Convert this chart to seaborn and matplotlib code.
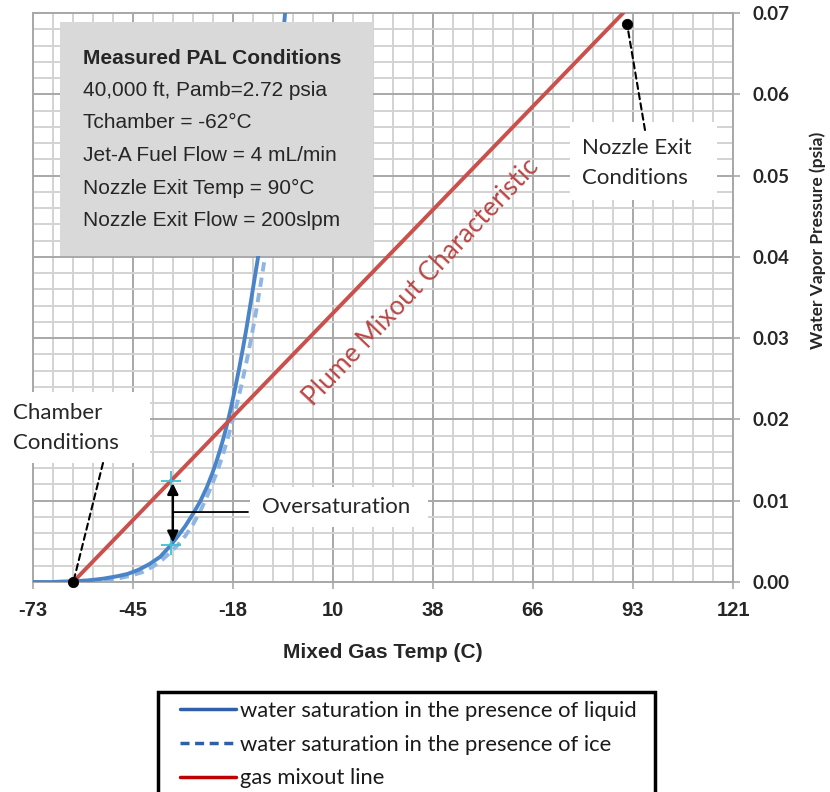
import numpy as np
import pandas as pd
import matplotlib
matplotlib.use("Agg")
import matplotlib.pyplot as plt
import seaborn as sns
from matplotlib.patches import Rectangle
from matplotlib.lines import Line2D
from matplotlib.ticker import FixedLocator, FixedFormatter

# ---------------- data ----------------
# Saturation vapor pressure over liquid water (deg C, psia)
liquid_temp_c = [-73.3, -68.0, -62.2, -58.0, -54.0, -50.0, -47.0, -44.0, -41.0, -38.0,
                 -35.3, -33.0, -31.0, -29.0, -26.9, -25.0, -23.5, -22.4, -21.4, -20.3,
                 -19.2, -18.2, -17.2, -16.1, -15.0, -14.0, -13.0, -11.9, -10.8, -8.7,
                 -6.7, -5.0, -3.3]
liquid_psia = [0.0000, 0.0000, 0.0001, 0.0002, 0.0004, 0.0007, 0.0010, 0.0015, 0.0022, 0.0031,
               0.0044, 0.0057, 0.0069, 0.0083, 0.0099, 0.0117, 0.0134, 0.0148, 0.0162, 0.0179,
               0.0198, 0.0217, 0.0238, 0.0262, 0.0288, 0.0313, 0.0340, 0.0370, 0.0400, 0.0467,
               0.0543, 0.0617, 0.0700]

# Saturation vapor pressure over ice (deg C, psia)
ice_temp_c = [-62.2, -60.0, -56.0, -52.0, -49.0, -46.0, -43.0, -40.0, -37.5, -35.3,
              -33.0, -31.0, -29.0, -27.0, -25.0, -23.5, -22.0, -20.7, -19.4, -18.1,
              -16.8, -15.5, -14.2, -12.9, -11.6, -10.3, -9.0, -7.5, -6.0]
ice_psia = [0.0001, 0.0001, 0.0002, 0.0003, 0.0005, 0.0008, 0.0012, 0.0019, 0.0027, 0.0036,
            0.0046, 0.0057, 0.0070, 0.0086, 0.0105, 0.0121, 0.0138, 0.0155, 0.0174, 0.0195,
            0.0217, 0.0241, 0.0267, 0.0296, 0.0327, 0.0361, 0.0397, 0.0442, 0.0490]

# Plume mixout line: chamber -> nozzle exit
mixout_temp_c = [-62.2, 90.6]
mixout_psia = [0.0000, 0.0700]

chamber_temp_c, chamber_psia = -62.2, 0.0000
nozzle_temp_c, nozzle_psia = 91.7, 0.0686

oversat_temp_c = -35.0

# Axis ticks: round Fahrenheit values shown in Celsius
tick_f = [-100, -50, 0, 50, 100, 150, 200, 250]
tick_labels = ["-73", "-45", "-18", "10", "38", "66", "93", "121"]
y_ticks = [0.00, 0.01, 0.02, 0.03, 0.04, 0.05, 0.06, 0.07]
y_tick_labels = ["0.00", "0.01", "0.02", "0.03", "0.04", "0.05", "0.06", "0.07"]

conditions_title = "Measured PAL Conditions"
conditions_lines = ["40,000 ft, Pamb=2.72 psia", "Tchamber = -62°C",
                    "Jet-A Fuel Flow = 4 mL/min", "Nozzle Exit Temp = 90°C",
                    "Nozzle Exit Flow = 200slpm"]

legend_labels = ["water saturation in the presence of liquid",
                 "water saturation in the presence of ice",
                 "gas mixout line"]

# ---------------- style ----------------
sns.set_style("white")
plt.rcParams["font.family"] = ["Liberation Sans", "DejaVu Sans"]
CAL = ["Lato", "DejaVu Sans"]
ARIAL = ["Liberation Sans", "DejaVu Sans"]

BLUE = "#4a84c8"
ICE_BLUE = "#8fb5e3"
RED = "#c9504b"
CYAN = "#3fc0d8"
GRID_MAJ = "#a8a8a8"
GRID_MIN = "#d3d3d3"

W, H = 830, 792
AX_L, AX_R, AX_T, AX_B = 33, 733, 13, 582

fig = plt.figure(figsize=(W / 100, H / 100), dpi=100)
ax = fig.add_axes([AX_L / W, 1 - AX_B / H, (AX_R - AX_L) / W, (AX_B - AX_T) / H])


def axf(px, py):
    """pixel position -> axes fraction"""
    return ((px - AX_L) / (AX_R - AX_L), (AX_B - py) / (AX_B - AX_T))


def f_to_c(f):
    return (np.asarray(f, dtype=float) - 32.0) * 5.0 / 9.0


tick_c = f_to_c(tick_f)
minor_c = f_to_c(np.arange(tick_f[0], tick_f[-1] + 1, 10))

# ---------------- curves ----------------
liq = pd.DataFrame({"temp": liquid_temp_c, "p": liquid_psia})
ice = pd.DataFrame({"temp": ice_temp_c, "p": ice_psia})
mix = pd.DataFrame({"temp": mixout_temp_c, "p": mixout_psia})

sns.lineplot(data=ice, x="temp", y="p", ax=ax, color=ICE_BLUE, lw=2.8,
             linestyle=(0, (2.4, 1.6)), sort=False, zorder=3)
sns.lineplot(data=liq, x="temp", y="p", ax=ax, color=BLUE, lw=2.8, sort=False, zorder=3)
sns.lineplot(data=mix, x="temp", y="p", ax=ax, color=RED, lw=2.8, sort=False, zorder=3)

sns.scatterplot(x=[chamber_temp_c, nozzle_temp_c], y=[chamber_psia, nozzle_psia], ax=ax,
                color="black", s=55, edgecolor="black", zorder=6, clip_on=False)

# ---------------- axes ----------------
ax.set_xlim(tick_c[0], tick_c[-1])
ax.set_ylim(0, 0.07)

ax.xaxis.set_major_locator(FixedLocator(tick_c))
ax.xaxis.set_major_formatter(FixedFormatter(tick_labels))
ax.xaxis.set_minor_locator(FixedLocator(minor_c))
ax.yaxis.set_major_locator(FixedLocator(y_ticks))
ax.yaxis.set_major_formatter(FixedFormatter(y_tick_labels))
ax.yaxis.set_minor_locator(FixedLocator(np.arange(0, 0.0701, 0.002)))
ax.yaxis.tick_right()

ax.set_axisbelow(True)
ax.grid(which="minor", color=GRID_MIN, lw=1.4)
ax.grid(which="major", color=GRID_MAJ, lw=1.4)
for s in ax.spines.values():
    s.set_color(GRID_MAJ)
    s.set_linewidth(1.4)

ax.tick_params(axis="x", which="major", direction="out", length=5, width=1.2,
               color=GRID_MAJ, pad=9, bottom=True)
ax.tick_params(axis="y", which="major", direction="out", length=5, width=1.2,
               color=GRID_MAJ, pad=9, right=True, left=False)
ax.tick_params(which="minor", length=0)
for lab in ax.get_xticklabels():
    lab.set_fontfamily(ARIAL)
    lab.set_fontweight("bold")
    lab.set_fontsize(14.5)
for lab in ax.get_yticklabels():
    lab.set_fontfamily(CAL)
    lab.set_fontweight("bold")
    lab.set_fontsize(13.5)

ax.set_xlabel("Mixed Gas Temp (C)", fontfamily=ARIAL, fontweight="bold", fontsize=15)
ax.xaxis.set_label_coords(0.5, axf(0, 643)[1])
ax.xaxis.label.set_verticalalignment("top")

ax.set_ylabel("Water Vapor Pressure (psia)", fontfamily=CAL, fontweight="bold", fontsize=12.5)
ax.yaxis.set_label_coords(*axf(818, 240))
ax.yaxis.label.set(rotation=90, rotation_mode="default", ha="center", va="center")

# oversaturation marker pair and arrow
over_top = float(np.interp(oversat_temp_c, mixout_temp_c, mixout_psia))
over_bot = float(np.interp(oversat_temp_c, liquid_temp_c, liquid_psia))
ax.plot([oversat_temp_c] * 2, [over_top, over_bot], ls="none", marker="+",
        ms=14, mew=1.3, color=CYAN, zorder=6)
ax.annotate("", xy=(oversat_temp_c + 0.5, over_bot + 0.0003),
            xytext=(oversat_temp_c + 0.5, over_top - 0.0003),
            arrowprops=dict(arrowstyle="<|-|>", color="black", lw=1.8,
                            mutation_scale=16, shrinkA=0, shrinkB=0), zorder=6)


# ---------------- annotation boxes ----------------
def white_box(x0, y0, x1, y1):
    a0 = axf(x0, y1)
    a1 = axf(x1, y0)
    ax.add_patch(Rectangle(a0, a1[0] - a0[0], a1[1] - a0[1], transform=ax.transAxes,
                           facecolor="white", edgecolor="none", zorder=4, clip_on=False))


def note(px, py, text):
    ax.text(*axf(px, py), text, transform=ax.transAxes, ha="left", va="center",
            fontfamily=CAL, fontsize=16, color="#262626", zorder=8)


def leader(xy_data, px, py):
    ax.annotate("", xy=xy_data, xytext=axf(px, py), textcoords="axes fraction",
                arrowprops=dict(arrowstyle="-", color="black", lw=1.5, ls=(0, (3, 2)),
                                shrinkA=0, shrinkB=0), zorder=5)


# measured conditions panel
g0, g1 = axf(60, 256), axf(373, 22)
ax.add_patch(Rectangle(g0, g1[0] - g0[0], g1[1] - g0[1], transform=ax.transAxes,
                       facecolor="#d9d9d9", edgecolor="none", zorder=7))
ax.text(*axf(83, 58), conditions_title, transform=ax.transAxes, ha="left", va="center",
        fontfamily=ARIAL, fontweight="bold", fontsize=15, zorder=8)
for i, line in enumerate(conditions_lines):
    ax.text(*axf(83, 90.5 + 32.5 * i), line, transform=ax.transAxes, ha="left",
            va="center", fontfamily=ARIAL, fontsize=15, zorder=8)

# chamber conditions
white_box(3, 392, 150, 463)
note(13, 413, "Chamber")
note(13, 443, "Conditions")
leader((chamber_temp_c + 0.3, chamber_psia + 0.0004), 103, 463)

# nozzle exit conditions
white_box(570, 122, 717, 200)
note(582, 148, "Nozzle Exit")
note(582, 178, "Conditions")
leader((nozzle_temp_c, nozzle_psia), 645, 130)

# oversaturation label
white_box(250, 487, 428, 527)
note(262, 507, "Oversaturation")
ax.annotate("", xy=(oversat_temp_c + 0.5, 0.0086), xytext=axf(248, 512),
            textcoords="axes fraction",
            arrowprops=dict(arrowstyle="-", color="black", lw=1.3, shrinkA=0, shrinkB=0),
            zorder=5)

# mixout line label
ax.text(*axf(421, 282), "Plume Mixout Characteristic", transform=ax.transAxes,
        rotation=46.5, rotation_mode="anchor", ha="center", va="center",
        fontfamily=CAL, fontsize=19, color="#b94745", zorder=5)

# ---------------- legend ----------------
fig.add_artist(Rectangle((158 / W, 1 - 800 / H), (655 - 158) / W, (800 - 692) / H,
                         transform=fig.transFigure, facecolor="white",
                         edgecolor="black", lw=2.5, zorder=1))
handles = [Line2D([0], [0], color="#2f5fa8", lw=2.5),
           Line2D([0], [0], color="#2f5fa8", lw=2.5, ls=(0, (2.6, 1.6))),
           Line2D([0], [0], color="#c00000", lw=2.5)]
leg = fig.legend(handles, legend_labels, loc="upper left",
                 bbox_to_anchor=(180 / W, 1 - 701 / H), frameon=False,
                 borderpad=0, borderaxespad=0, handlelength=2.55, handletextpad=0.2,
                 labelspacing=0.62, prop={"family": CAL, "size": 15.8})
for t in leg.get_texts():
    t.set_color("#1a1a1a")

fig.savefig("out.png", dpi=100)
